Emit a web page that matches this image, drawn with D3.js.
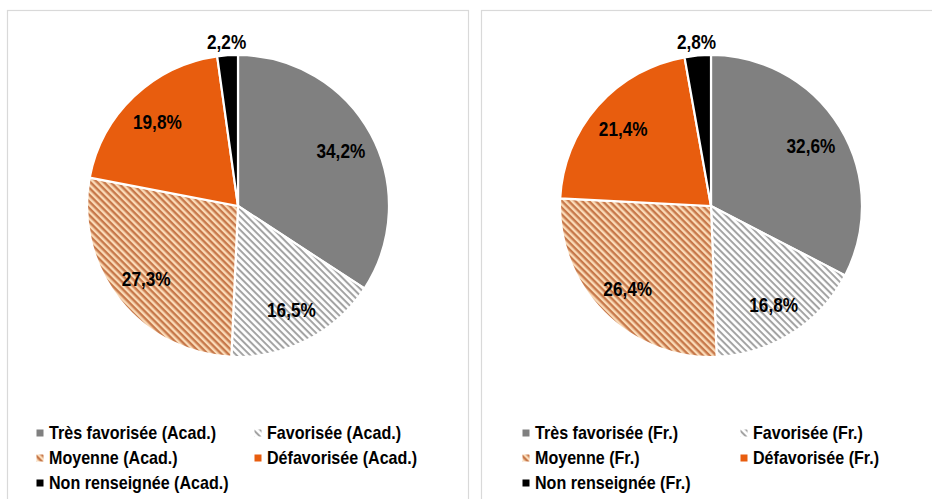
<!DOCTYPE html>
<html>
<head>
<meta charset="utf-8">
<script src="https://cdn.jsdelivr.net/npm/d3@7"></script>
<style>
  body { margin: 0; background: #fff; }
  text { font-family: "Liberation Sans Narrow", "Arial Narrow", "Liberation Sans", Arial, sans-serif; font-weight: bold; }
</style>
</head>
<body>
<div id="main"></div>
<script>
const width = 932;
const height = 499;

const categories = ["Très favorisée", "Favorisée", "Moyenne", "Défavorisée", "Non renseignée"];
const acadValues = [34.2, 16.5, 27.3, 19.8, 2.2];
const frValues = [32.6, 16.8, 26.4, 21.4, 2.8];
const panels = [
  { suffix: "(Acad.)", values: acadValues, x0: 7, w: 461, cx: 238, legendX: [40, 258] },
  { suffix: "(Fr.)", values: frValues, x0: 481, w: 460, cx: 711, legendX: [526, 744] },
];

let svg = d3.select("#main").append("svg").attr("width", width).attr("height", height);

// hatch patterns
let defs = svg.append("defs");
function hatch(id, bg, fg, w) {
  let p = defs.append("pattern")
    .attr("id", id)
    .attr("patternUnits", "userSpaceOnUse")
    .attr("width", 4.8)
    .attr("height", 4.8)
    .attr("patternTransform", "rotate(45)");
  p.append("rect").attr("width", 4.8).attr("height", 4.8).attr("fill", bg);
  p.append("rect").attr("width", 4.8).attr("height", w).attr("fill", fg);
}
hatch("hatchGray", "#ffffff", "#a3a3a3", 2);
hatch("hatchOrange", "#fadbb8", "#c7784a", 2.4);

const fills = ["#808080", "url(#hatchGray)", "url(#hatchOrange)", "#e85d0e", "#000000"];
const color = d3.scaleOrdinal().domain(categories).range(fills);

const R = 151;
const cy = 206;
let pie = d3.pie().sort(null).value((d) => d.value);
let arc = d3.arc().innerRadius(0).outerRadius(R);
let labelArc = d3.arc().innerRadius(117).outerRadius(117);
let outerLabelArc = d3.arc().innerRadius(165).outerRadius(165);

panels.forEach((p) => {
  // panel border
  svg.append("rect")
    .attr("x", p.x0 + 0.5)
    .attr("y", 10.5)
    .attr("width", p.w)
    .attr("height", 500)
    .attr("fill", "none")
    .attr("stroke", "#d9d9d9")
    .attr("stroke-width", 1.2);

  let data = categories.map((c, i) => ({ cat: c, value: p.values[i] }));
  let g = svg.append("g").attr("transform", `translate(${p.cx},${cy})`);

  g.selectAll("path")
    .data(pie(data))
    .enter()
    .append("path")
    .attr("d", arc)
    .attr("fill", (d) => color(d.data.cat))
    .attr("stroke", "#fff")
    .attr("stroke-width", 2.2)
    .attr("stroke-linejoin", "round");

  g.selectAll(".lbl")
    .data(pie(data))
    .enter()
    .append("text")
    .attr("class", "lbl")
    .attr("transform", (d) => {
      let c = d.data.value < 5 ? outerLabelArc.centroid(d) : labelArc.centroid(d);
      return `translate(${c[0]},${c[1]}) scale(0.84,1)`;
    })
    .attr("text-anchor", "middle")
    .attr("dy", "0.36em")
    .attr("font-size", 20.5)
    .attr("fill", "#000")
    .text((d) => d3.format(".1f")(d.data.value).replace(".", ",") + "%");

  // legend
  let rows = [433, 458, 483];
  categories.forEach((c, i) => {
    let lx = p.legendX[i % 2];
    let ly = rows[Math.floor(i / 2)];
    let lg = svg.append("g").attr("transform", `translate(${lx},${ly})`);
    lg.append("rect")
      .attr("x", -3.5)
      .attr("y", -3.5)
      .attr("width", 7)
      .attr("height", 7)
      .attr("fill", color(c));
    lg.append("text")
      .attr("transform", "translate(9,0) scale(0.92,1)")
      .attr("dy", "0.36em")
      .attr("font-size", 17.5)
      .attr("fill", "#000")
      .text(`${c} ${p.suffix}`);
  });
});
</script>
</body>
</html>
